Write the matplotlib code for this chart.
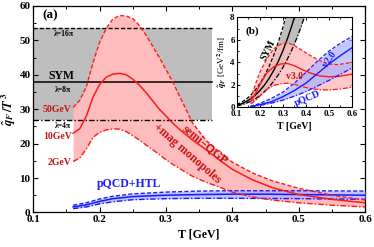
import numpy as np
import matplotlib
matplotlib.use("Agg")
import matplotlib.pyplot as plt

plt.rcParams['font.family'] = ['Liberation Serif', 'DejaVu Serif']
plt.rcParams['font.weight'] = 'bold'
plt.rcParams['mathtext.fontset'] = 'stix'

# ---- main panel (a): qhat_F / T^3 ----
T_red = [0.16, 0.17, 0.18, 0.19, 0.20, 0.21, 0.22, 0.23, 0.24, 0.25, 0.26, 0.27,
         0.28, 0.29, 0.30, 0.31, 0.32, 0.34, 0.36, 0.38, 0.40, 0.43, 0.46, 0.50,
         0.55, 0.60]
q50 = [30.5, 32.6, 36.5, 43.5, 49.5, 53.5, 56.2, 57.2, 57.1, 56.3, 54.3, 51.5,
       48.3, 45.0, 41.5, 38.0, 34.0, 26.0, 21.0, 17.5, 14.6, 11.5, 9.2, 7.0,
       5.0, 3.6]
q10 = [23.0, 24.3, 28.0, 33.5, 37.2, 39.3, 40.2, 40.4, 40.0, 38.7, 37.0, 34.8,
       32.4, 30.0, 28.0, 26.0, 24.2, 21.0, 18.3, 15.3, 12.5, 9.5, 7.2, 5.2,
       3.8, 2.8]
q2 = [14.8, 15.8, 18.5, 21.8, 23.3, 24.0, 24.3, 24.2, 23.5, 22.3, 21.0, 19.6,
      18.2, 16.8, 15.3, 14.0, 12.8, 10.5, 8.8, 7.4, 5.9, 4.5, 3.6, 2.8,
      2.1, 1.6]

T_htl = [0.16, 0.18, 0.20, 0.22, 0.25, 0.30, 0.35, 0.40, 0.45, 0.50, 0.55, 0.60]
htl_mid = [1.6, 2.2, 3.2, 4.0, 4.6, 5.0, 5.2, 5.3, 5.3, 5.2, 5.1, 5.0]
htl_hi = [2.1, 2.8, 3.9, 4.7, 5.4, 5.9, 6.2, 6.3, 6.3, 6.3, 6.25, 6.2]
htl_lo = [1.1, 1.6, 2.5, 3.1, 3.7, 4.0, 4.1, 4.1, 4.05, 4.0, 3.9, 3.8]

T_sym_box = [0.1, 0.37]
sym_16pi = 53.5
sym_8pi = 38.0
sym_4pi = 26.8

# ---- inset (b): qhat_F in GeV^2/fm ----
T_sym = [0.10, 0.12, 0.14, 0.16, 0.18, 0.20, 0.22, 0.24, 0.26, 0.28, 0.30,
         0.32, 0.34, 0.36, 0.38, 0.40]
sym_mid = [0.19, 0.32, 0.51, 0.76, 1.08, 1.49, 1.98, 2.57, 3.27, 4.08, 5.02,
           6.10, 7.31, 8.68, 10.2, 11.9]
sym_hi = [0.26, 0.45, 0.72, 1.07, 1.53, 2.10, 2.79, 3.62, 4.61, 5.76, 7.08,
          8.60, 10.3, 12.2, 14.4, 16.8]
sym_lo = [0.13, 0.23, 0.36, 0.54, 0.76, 1.05, 1.40, 1.81, 2.31, 2.88, 3.54,
          4.30, 5.15, 6.12, 7.20, 8.42]

T_v3 = [0.16, 0.18, 0.20, 0.23, 0.26, 0.29, 0.32, 0.35, 0.38, 0.42, 0.46,
        0.50, 0.54, 0.57, 0.60]
v3_hi = [0.7, 2.0, 3.1, 4.3, 5.2, 5.6, 5.75, 5.5, 5.1, 4.6, 4.15, 3.85, 3.8, 3.9, 4.0]
v3_mid = [0.5, 1.2, 2.0, 3.05, 3.6, 3.85, 3.9, 3.7, 3.4, 3.05, 2.8, 2.72, 2.75, 2.85, 2.95]
v3_lo = [0.3, 0.6, 1.0, 1.6, 1.95, 2.1, 2.15, 2.05, 1.85, 1.68, 1.57, 1.55, 1.62, 1.7, 1.8]

T_v2 = [0.16, 0.20, 0.25, 0.30, 0.35, 0.40, 0.45, 0.50, 0.55, 0.60]
v2_hi = [0.1, 0.35, 0.8, 1.35, 2.15, 3.1, 4.1, 5.0, 5.7, 6.3]
v2_mid = [0.08, 0.25, 0.5, 0.95, 1.5, 2.15, 3.0, 3.85, 4.6, 5.3]
v2_lo = [0.05, 0.18, 0.38, 0.65, 1.0, 1.4, 1.9, 2.4, 2.95, 3.5]

red = '#ff1a1a'
dred = '#c41414'
blue = '#1a1aff'
pink = '#ffbcbc'
lblue = '#aab2ff'
gray = '#bebebe'
dash = (0, (3, 1.5))
dashdot = (0, (4, 1.5, 1, 1.5))

fig = plt.figure(figsize=(3.74, 2.47), dpi=100)
ax = fig.add_axes([0.089, 0.140, 0.887, 0.836])

# SYM box
ax.fill_between(T_sym_box, [sym_4pi] * 2, [sym_16pi] * 2, color=gray, lw=0, zorder=1)
ax.fill_between(T_red, q2, q50, color=pink, lw=0, zorder=2)
ax.plot(T_sym_box, [sym_16pi] * 2, color='k', ls=dash, lw=1.0, zorder=3)
ax.plot(T_sym_box, [sym_8pi] * 2, color='k', ls='-', lw=1.1, zorder=3)
ax.plot(T_sym_box, [sym_4pi] * 2, color='k', ls=dashdot, lw=1.0, zorder=3)

ax.fill_between(T_htl, htl_lo, htl_hi, color=lblue, lw=0, alpha=0.75, zorder=4)
ax.plot(T_htl, htl_hi, color=blue, ls=dash, lw=1.0, zorder=5)
ax.plot(T_htl, htl_mid, color=blue, ls='-', lw=1.1, zorder=5)
ax.plot(T_htl, htl_lo, color=blue, ls=dashdot, lw=1.0, zorder=5)

ax.plot(T_red, q50, color=red, ls=dash, lw=1.0, zorder=6)
ax.plot(T_red, q10, color=red, ls='-', lw=1.1, zorder=6)
ax.plot(T_red, q2, color=red, ls=dashdot, lw=1.0, zorder=6)

ax.set_xlim(0.1, 0.6)
ax.set_ylim(0, 60)
ax.set_xticks([0.1, 0.2, 0.3, 0.4, 0.5, 0.6])
ax.set_yticks([0, 10, 20, 30, 40, 50, 60])
ax.set_xticks(np.arange(0.15, 0.6, 0.1), minor=True)
ax.set_yticks(np.arange(5, 60, 10), minor=True)
ax.tick_params(which='both', direction='in', top=True, right=True, labelsize=8,
               pad=2)
ax.tick_params(which='major', length=3.5, width=0.8)
ax.tick_params(which='minor', length=2, width=0.7)
for s in ax.spines.values():
    s.set_linewidth(0.9)
ax.set_xlabel('T [GeV]', fontsize=8.5, fontweight='bold', labelpad=3)
ax.set_ylabel(r'$\hat{q}_F\,/T^3$', fontsize=9, labelpad=1)

ax.text(0.113, 57.3, '(a)', fontsize=9.5, fontweight='bold', va='center', zorder=8)
ax.text(0.146, 51.7, r'λ=16π', fontsize=5.5, ha='center', va='center', zorder=8)
ax.text(0.143, 39.6, 'SYM', fontsize=8.5, ha='center', va='center', zorder=8)
ax.text(0.145, 35.5, r'λ=8π', fontsize=5.5, ha='center', va='center', zorder=8)
ax.text(0.145, 25.2, r'λ=4π', fontsize=5.5, ha='center', va='center', zorder=8)
ax.text(0.158, 29.8, '50GeV', fontsize=7, color=dred, ha='right', va='center', zorder=8)
ax.text(0.158, 22.0, '10GeV', fontsize=7, color=dred, ha='right', va='center', zorder=8)
ax.text(0.158, 14.5, '2GeV', fontsize=7, color=dred, ha='right', va='center', zorder=8)
ax.text(0.359, 19.6, 'semi−QGP', fontsize=8.5, color=dred, rotation=-39,
        ha='center', va='center', rotation_mode='anchor', zorder=8)
ax.text(0.332, 17.2, '+mag monopoles', fontsize=8.5, color=dred, rotation=-41,
        ha='center', va='center', rotation_mode='anchor', zorder=8)
ax.text(0.245, 8.2, 'pQCD+HTL', fontsize=8.5, color=blue, ha='center', va='center', zorder=8)

# ---- inset ----
ins = fig.add_axes([0.633, 0.565, 0.308, 0.365])
ins.fill_between(T_sym, sym_lo, sym_hi, color=gray, lw=0, zorder=1)
ins.plot(T_sym, sym_hi, color='k', ls=dash, lw=0.9, zorder=3)
ins.plot(T_sym, sym_mid, color='k', ls='-', lw=1.0, zorder=3)
ins.plot(T_sym, sym_lo, color='k', ls=dashdot, lw=0.9, zorder=3)

ins.fill_between(T_v3, v3_lo, v3_hi, color=pink, lw=0, alpha=0.8, zorder=2)
ins.plot(T_v3, v3_hi, color=red, ls=dash, lw=0.9, zorder=4)
ins.plot(T_v3, v3_mid, color=red, ls='-', lw=1.0, zorder=4)
ins.plot(T_v3, v3_lo, color=red, ls=dashdot, lw=0.9, zorder=4)

ins.fill_between(T_v2, v2_lo, v2_hi, color=lblue, lw=0, alpha=0.7, zorder=2)
ins.plot(T_v2, v2_hi, color=blue, ls=dash, lw=0.9, zorder=4)
ins.plot(T_v2, v2_mid, color=blue, ls='-', lw=1.0, zorder=4)
ins.plot(T_v2, v2_lo, color=blue, ls=dashdot, lw=0.9, zorder=4)

ins.set_xlim(0.1, 0.6)
ins.set_ylim(0, 8)
ins.set_xticks([0.1, 0.2, 0.3, 0.4, 0.5, 0.6])
ins.set_yticks([0, 2, 4, 6, 8])
ins.set_xticks(np.arange(0.15, 0.6, 0.1), minor=True)
ins.set_yticks(np.arange(1, 8, 2), minor=True)
ins.tick_params(which='both', direction='in', top=True, right=True, labelsize=6.5,
                pad=1.5)
ins.tick_params(which='major', length=2.5, width=0.7)
ins.tick_params(which='minor', length=1.3, width=0.6)
for s in ins.spines.values():
    s.set_linewidth(0.8)
ins.set_xlabel('T [GeV]', fontsize=7, fontweight='bold', labelpad=3)
ins.set_ylabel(r'$\hat{q}_F$ [GeV$^\mathbf{2}$/fm]', fontsize=6.5, labelpad=1)

ins.text(0.168, 6.8, '(b)', fontsize=8, fontweight='bold', ha='center', va='center', zorder=8)
ins.text(0.238, 5.1, 'SYM', fontsize=7, rotation=63, ha='center', va='center',
         rotation_mode='anchor', zorder=8)
ins.text(0.35, 2.73, 'v3.0', fontsize=7, color=dred, ha='center', va='center', zorder=8)
ins.text(0.505, 4.2, 'v2.0', fontsize=7, color=blue, rotation=55, ha='center',
         va='center', rotation_mode='anchor', zorder=8)
ins.text(0.408, 0.8, 'pQCD', fontsize=7, color=blue, rotation=23, ha='center',
         va='center', rotation_mode='anchor', zorder=8)

fig.savefig('out.png', dpi=100)
